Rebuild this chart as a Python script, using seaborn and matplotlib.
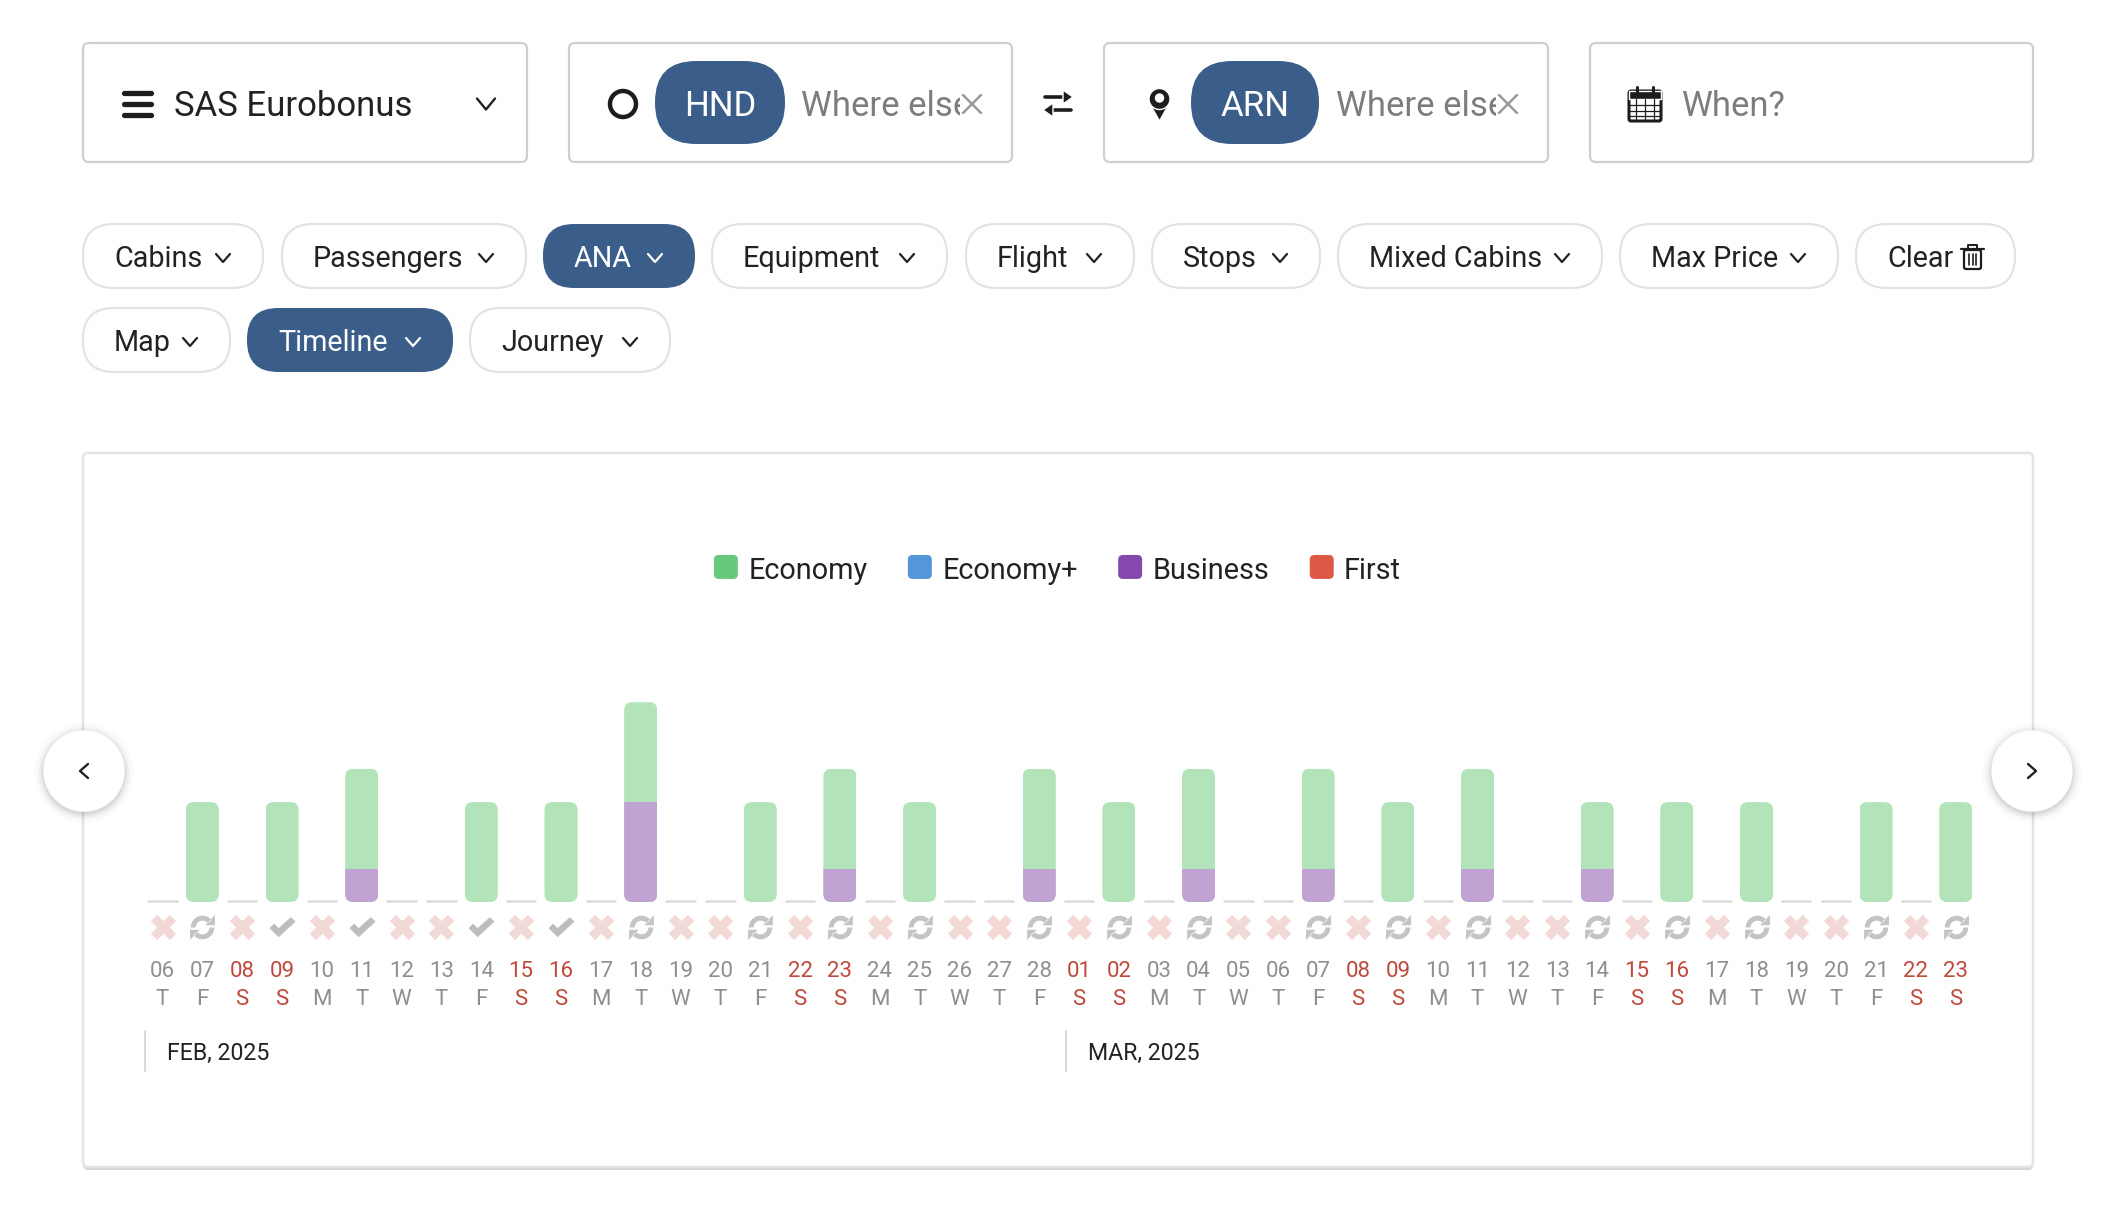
import matplotlib
matplotlib.use("Agg")
import matplotlib.pyplot as plt
import matplotlib.transforms as mtrans
from matplotlib.legend_handler import HandlerPatch
from matplotlib.patches import Circle, FancyBboxPatch, Patch, Polygon, Rectangle, Wedge
from matplotlib.path import Path
import pandas as pd
import seaborn as sns

months = ["Feb"] * 23 + ["Mar"] * 23
day_nums = ["06", "07", "08", "09", "10", "11", "12", "13", "14", "15", "16", "17",
            "18", "19", "20", "21", "22", "23", "24", "25", "26", "27", "28",
            "01", "02", "03", "04", "05", "06", "07", "08", "09", "10", "11", "12",
            "13", "14", "15", "16", "17", "18", "19", "20", "21", "22", "23"]
weekdays = ["T", "F", "S", "S", "M", "T", "W", "T", "F", "S", "S", "M",
            "T", "W", "T", "F", "S", "S", "M", "T", "W", "T", "F",
            "S", "S", "M", "T", "W", "T", "F", "S", "S", "M", "T", "W",
            "T", "F", "S", "S", "M", "T", "W", "T", "F", "S", "S"]
economy = [0, 3, 0, 3, 0, 3, 0, 0, 3, 0, 3, 0, 3, 0, 0, 3, 0, 3, 0, 3, 0, 0, 3,
           0, 3, 0, 3, 0, 0, 3, 0, 3, 0, 3, 0, 0, 2, 0, 3, 0, 3, 0, 0, 3, 0, 3]
business = [0, 0, 0, 0, 0, 1, 0, 0, 0, 0, 0, 0, 3, 0, 0, 0, 0, 1, 0, 0, 0, 0, 1,
            0, 0, 0, 1, 0, 0, 1, 0, 0, 0, 1, 0, 0, 1, 0, 0, 0, 0, 0, 0, 0, 0, 0]
status = ["x", "r", "x", "c", "x", "c", "x", "x", "c", "x", "c", "x", "r", "x", "x",
          "r", "x", "r", "x", "r", "x", "x", "r", "x", "r", "x", "r", "x", "x", "r",
          "x", "r", "x", "r", "x", "x", "r", "x", "r", "x", "r", "x", "x", "r", "x", "r"]
legend_labels = ["Economy", "Economy+", "Business", "First"]
legend_colors = ["#66c97b", "#5596d8", "#8549ad", "#dc5a45"]

chip_labels = ["Cabins", "Passengers", "ANA", "Equipment", "Flight", "Stops",
               "Mixed Cabins", "Max Price", "Clear", "Map", "Timeline", "Journey"]
chip_spans = [(83, 263), (282, 526), (543, 695), (712, 947), (966, 1134), (1152, 1320),
              (1338, 1602), (1620, 1838), (1856, 2015), (83, 230), (247, 453), (470, 670)]
chip_active = ["ANA", "Timeline"]

W, H = 2124, 1230
BLUE = "#3b5d8a"
INK = "#222222"
GREY = "#7d7d7d"
STEP = 39.85
UNIT = 33.3
BASE_Y = 902

sns.set_theme(style="white")
plt.rcParams["font.family"] = ["Roboto", "DejaVu Sans"]

fig = plt.figure(figsize=(W / 100, H / 100), dpi=100, facecolor="white")
ui = fig.add_axes([0, 0, 1, 1], zorder=1)
ui.set_xlim(0, W)
ui.set_ylim(H, 0)
ui.axis("off")


def box(x0, y0, x1, y1, r, fc="white", ec="none", lw=0, z=1, alpha=None):
    p = FancyBboxPatch((x0, y0), x1 - x0, y1 - y0, boxstyle=f"round,pad=0,rounding_size={r}",
                       fc=fc, ec=ec, lw=lw, zorder=z, alpha=alpha)
    ui.add_patch(p)
    return p


def stroke(xs, ys, color=INK, lw=2, z=3):
    ui.plot(xs, ys, color=color, lw=lw, solid_capstyle="round", solid_joinstyle="round", zorder=z)


def chevron(cx, cy, color=INK, w=8, h=5, lw=2):
    stroke([cx - w, cx, cx + w], [cy - h, cy + h, cy - h], color, lw)


def cross(cx, cy, color="#9a9a9a", s=9, lw=1.8):
    stroke([cx - s, cx + s], [cy - s, cy + s], color, lw, 5)
    stroke([cx - s, cx + s], [cy + s, cy - s], color, lw, 5)


# search boxes
for x0, x1 in [(83, 527), (569, 1012), (1104, 1548), (1590, 2033)]:
    box(x0, 43, x1, 162, 6, ec="#cfcfcf", lw=1.6)
ui.text(174, 106.5, "SAS Eurobonus", fontsize=25, color=INK, va="center", zorder=3)
for y in [93, 104, 115]:
    stroke([124, 151], [y, y], "#1d1d1d", 3.8)
chevron(486, 104, lw=1.7, w=9, h=5.5)
ui.add_patch(Circle((623, 104), 13, fc="none", ec="#1d1d1d", lw=3.2, zorder=3))
for x0, x1, code, hint_x, clip_x in [(655, 785, "HND", 801, 960), (1191, 1319, "ARN", 1336, 1496)]:
    box(x0, 61, x1, 144, 41, fc=BLUE, z=2)
    ui.text((x0 + x1) / 2, 106.5, code, fontsize=25, color="white", ha="center", va="center", zorder=3)
    t = ui.text(hint_x, 106.5, "Where else", fontsize=25, color=GREY, va="center", zorder=3)
    t.set_clip_path(Rectangle((hint_x, 60), clip_x - hint_x, 90, transform=ui.transData))
    t.set_clip_on(True)
    cross(clip_x + 12, 104)
# swap arrows
stroke([1045, 1069], [97, 97], "#1d1d1d", 2.6)
stroke([1047, 1071], [110, 110], "#1d1d1d", 2.6)
ui.add_patch(Polygon([(1063, 90), (1073, 97), (1063, 104)], fc="#1d1d1d", zorder=3))
ui.add_patch(Polygon([(1053, 103), (1043, 110), (1053, 117)], fc="#1d1d1d", zorder=3))
# pin
ui.add_patch(Polygon([(1150, 104), (1169, 104), (1159.5, 121)], fc="#1d1d1d", zorder=3))
ui.add_patch(Circle((1159.5, 99), 10.5, fc="#1d1d1d", zorder=3))
ui.add_patch(Circle((1159.5, 98), 4, fc="white", zorder=4))
# calendar
box(1629, 91, 1661, 121, 2, ec="#1d1d1d", lw=2.2, z=3)
ui.add_patch(Rectangle((1629, 91), 32, 8, fc="#1d1d1d", zorder=3))
for x in [1636, 1645, 1654]:
    stroke([x, x], [99, 120], "#1d1d1d", 0.9)
for y in [105, 110.5, 116]:
    stroke([1629, 1661], [y, y], "#1d1d1d", 0.9)
for x in [1637, 1653]:
    stroke([x, x], [87, 94], "#1d1d1d", 2.2, 4)
ui.text(1682, 106.5, "When?", fontsize=25, color=GREY, va="center", zorder=3)

# filter chips
for i, (label, (x0, x1)) in enumerate(zip(chip_labels, chip_spans)):
    y0 = 224 if i < 9 else 308
    active = label in chip_active
    box(x0, y0, x1, y0 + 64, 31, fc=BLUE if active else "white",
        ec="none" if active else "#e3e3e3", lw=1.6)
    fg = "white" if active else INK
    ui.text(x0 + 31, y0 + 35, label, fontsize=20.7, color=fg, va="center", zorder=3)
    if label != "Clear":
        chevron(x1 - 40, y0 + 34, fg, 7, 4, 1.6)
# trash icon
box(1964, 250, 1981, 269, 2, ec="#1d1d1d", lw=1.6, z=3)
stroke([1961, 1984], [248.5, 248.5], "#1d1d1d", 1.6)
stroke([1968, 1968, 1977, 1977], [248, 245, 245, 248], "#1d1d1d", 1.4)
for x in [1969, 1972.5, 1976]:
    stroke([x, x], [254, 265], "#1d1d1d", 1.2)

# chart card
box(83, 455, 2033, 1170, 5, fc="#d4d4d4", z=0.4)
box(83, 453, 2033, 1167, 5, fc="white", ec="#e4e4e4", lw=1.8, z=0.5)

# round prev/next buttons
for cx, mark in [(84, "<"), (2032, ">")]:
    for r, a in [(50, 0.015), (47, 0.02), (45, 0.03), (43, 0.04), (41.5, 0.05)]:
        ui.add_patch(Circle((cx, 773), r, fc="black", alpha=a, lw=0, zorder=5))
    ui.add_patch(Circle((cx, 771), 40, fc="white", zorder=6))
    d = -4 if mark == "<" else 4
    ui.plot([cx - d, cx + d, cx - d], [764, 771, 778], color=INK, lw=1.7, zorder=7,
            solid_capstyle="round", solid_joinstyle="round")

# month labels
for x, label in [(145, "FEB, 2025"), (1066, "MAR, 2025")]:
    stroke([x, x], [1031, 1071], "#d8d8d8", 1.4)
    ui.text(x + 22, 1053.5, label, fontsize=16.7, color=INK, va="center", zorder=3)

# timeline bars
df = pd.DataFrame({
    "date": [f"{m}-{d}" for m, d in zip(months, day_nums)],
    "economy": economy,
    "business": business,
})
df["total"] = df["economy"] + df["business"]

left = 162.5 - STEP / 2
ax = fig.add_axes([left / W, 1 - BASE_Y / H, 46 * STEP / W, 7 * UNIT / H], zorder=2)
ax.patch.set_visible(False)
BAR_W = 0.83
sns.barplot(data=df, x="date", y="total", color="#b2e3b9", saturation=1, width=BAR_W, linewidth=0, ax=ax)
sns.barplot(data=df, x="date", y="business", color="#c0a3d3", saturation=1, width=BAR_W, linewidth=0, ax=ax)
ax.set_xlim(-0.5, 45.5)
ax.set_ylim(0, 7)
ax.set_xlabel("")
ax.set_ylabel("")
ax.set_yticks([])
sns.despine(ax=ax, left=True, bottom=True)

# round the corners of each stacked column
r = 8 / STEP
for cont in ax.containers:
    for i, bar in enumerate(cont):
        if df["total"][i] > 0:
            clip = FancyBboxPatch((i - BAR_W / 2, 0), BAR_W, df["total"][i],
                                  boxstyle=f"round,pad=0,rounding_size={r}",
                                  mutation_aspect=STEP / UNIT, transform=ax.transData)
            bar.set_clip_path(clip)

# dash for days with nothing
for i, v in enumerate(df["total"]):
    if v == 0:
        ax.hlines(0.03, i - 0.38, i + 0.38, color="#dcdcdc", lw=1.8, clip_on=False)

ax.set_xticks(range(len(day_nums)))
ax.set_xticklabels([f"{d}\n{w}" for d, w in zip(day_nums, weekdays)], fontsize=16, linespacing=1.4)
ax.tick_params(axis="x", length=0, pad=42.7)
for lab, w in zip(ax.get_xticklabels(), weekdays):
    lab.set_color("#c0493d" if w == "S" else "#8f8f8f")

# status icons under the bars
check_path = Path([(-1, -0.05), (-0.65, 0.3), (-0.3, -0.05), (0.65, 0.8), (1, 0.45), (-0.3, -0.75), (-1, -0.05)], closed=True)
refresh_path = Path.make_compound_path(
    Wedge((0, 0), 0.95, 40, 180, width=0.4).get_path(),
    Path([(1, 1), (1, 0.18), (0.22, 0.18), (1, 1)], closed=True),
    Wedge((0, 0), 0.95, 220, 360, width=0.4).get_path(),
    Path([(-1, -1), (-1, -0.18), (-0.22, -0.18), (-1, -1)], closed=True),
)
icon_styles = {"x": ("X", "#f3d9d6", 330), "c": (check_path, "#bdbdbd", 350), "r": (refresh_path, "#c4c4c4", 320)}
icon_tr = mtrans.blended_transform_factory(ax.transData, ui.transData)
for key, (marker, color, size) in icon_styles.items():
    xs = [i for i, s in enumerate(status) if s == key]
    ax.scatter(xs, [927] * len(xs), marker=marker, s=size, color=color, linewidths=0,
               transform=icon_tr, clip_on=False, zorder=4)
ax.set_xlim(-0.5, 45.5)
ax.set_ylim(0, 7)


class RoundSwatch(HandlerPatch):
    def create_artists(self, legend, orig, xdesc, ydesc, width, height, fontsize, trans):
        p = FancyBboxPatch((-xdesc, -ydesc + 1), width, width, boxstyle=f"round,pad=0,rounding_size={width * 0.2}",
                           fc=orig.get_facecolor(), lw=0, transform=trans)
        return [p]


handles = [Patch(color=c, label=l) for c, l in zip(legend_colors, legend_labels)]
fig.legend(handles=handles, loc="center", bbox_to_anchor=(1057.5 / W, 1 - 571 / H), ncol=4, frameon=False,
           fontsize=20.8, handlelength=0.83, handleheight=0.83, handletextpad=0.36, columnspacing=1.4,
           borderpad=0, labelcolor=INK, handler_map={Patch: RoundSwatch()})

fig.savefig("out.png", dpi=100, facecolor="white")
